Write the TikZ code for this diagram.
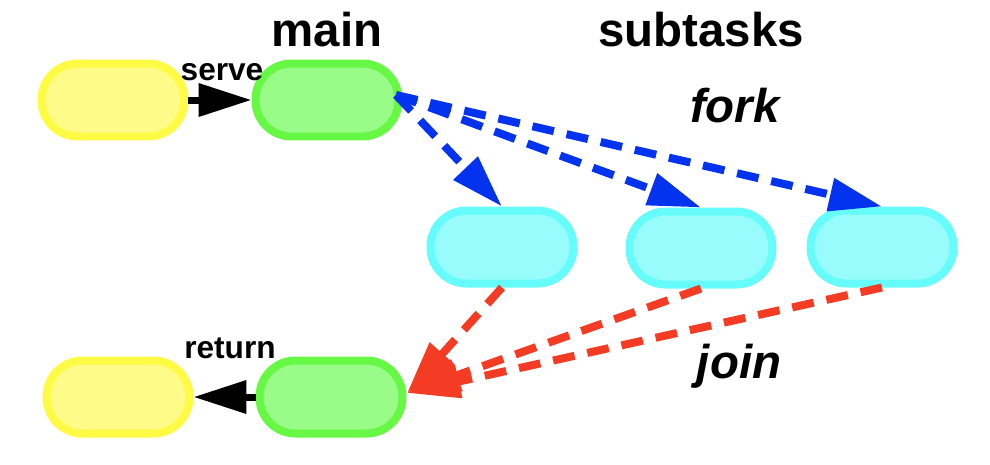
\documentclass[tikz,border=0pt]{standalone}
\usepackage{fontspec}
\setmainfont{Liberation Sans}
\usetikzlibrary{arrows.meta}
\definecolor{ybord}{HTML}{FFFA44}
\definecolor{yfill}{HTML}{FFFB88}
\definecolor{gbord}{HTML}{66F844}
\definecolor{gfill}{HTML}{99FB88}
\definecolor{cbord}{HTML}{66FCFC}
\definecolor{cfill}{HTML}{99FCFC}
\definecolor{fblue}{HTML}{0433F0}
\definecolor{jred}{HTML}{F43B24}
\tikzset{
  pill/.style={draw, line width=0.16cm, rounded corners=0.72cm,
    minimum width=2.86cm, minimum height=1.46cm, inner sep=0pt},
  ypill/.style={pill, draw=ybord, fill=yfill},
  gpill/.style={pill, draw=gbord, fill=gfill},
  cpill/.style={pill, draw=cbord, fill=cfill},
  big/.style={font=\fontsize{27}{30}\selectfont\bfseries, anchor=base},
  bigit/.style={font=\fontsize{27}{30}\selectfont\bfseries\itshape, anchor=base},
  small/.style={font=\fontsize{18}{20}\selectfont\bfseries, anchor=base},
  tip/.style={-{Triangle[length=1.06cm,width=0.64cm]}},
  blackarrow/.style={tip, line width=0.14cm, black},
  forkarrow/.style={tip, line width=0.16cm, fblue, dash pattern=on 0.44cm off 0.26cm},
  joinarrow/.style={tip, line width=0.16cm, jred, dash pattern=on 0.44cm off 0.26cm},
}
\begin{document}
\begin{tikzpicture}[x=0.02cm, y=-0.02cm]
\useasboundingbox (0,0) rectangle (990,464);
% nodes
\node[ypill] (yt) at (113,100) {};
\node[gpill] (gt) at (327,100) {};
\node[cpill] (c1) at (502,247) {};
\node[cpill] (c2) at (701,248) {};
\node[cpill] (c3) at (882,247) {};
\node[ypill] (yb) at (118,397) {};
\node[gpill] (gb) at (331,397) {};
\coordinate (fs) at (396,95);
\coordinate (jt) at (407,393);
% labels
\node[big] (lmain) at (327,46) {main};
\node[big] (lsub) at (701,46) {subtasks};
\node[bigit] (lfork) at (735,122) {fork};
\node[bigit] (ljoin) at (739,378) {join};
\node[small] (lserve) at (222,80) {serve};
\node[small] (lreturn) at (230,358) {return};
% arrows
\draw[blackarrow] (yt.east) -- (gt.west);
\draw[blackarrow] (gb.west) -- (yb.east);
\draw[forkarrow] (fs) -- (c1.north);
\draw[forkarrow] (fs) -- (c2.north);
\draw[forkarrow] (fs) -- (c3.north);
\draw[joinarrow] (c1.south) -- (jt);
\draw[joinarrow] (c2.south) -- (jt);
\draw[joinarrow] (c3.south) -- (jt);
\end{tikzpicture}
\end{document}
